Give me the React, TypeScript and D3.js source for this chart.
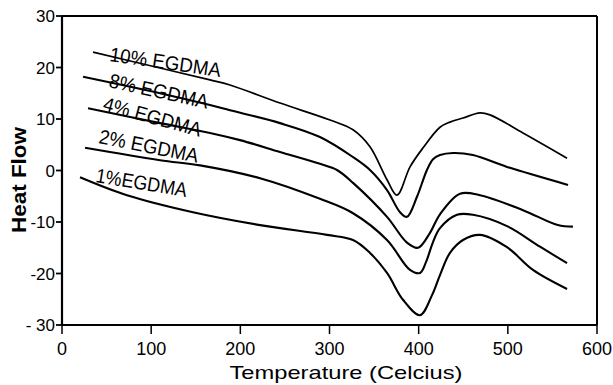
import React from "react";
import * as d3 from "d3";

// Temperature (°C), Heat Flow pairs
const egdma10: [number, number][] = [
  [34.8, 23.0], [109.9, 19.9], [166.0, 17.6], [188.4, 16.6], [244.5, 13.1],
  [300.6, 9.8], [326.4, 7.9], [345.4, 4.6], [364.5, -1.8], [375.7, -4.8],
  [390.3, 0.7], [404.9, 4.4], [423.9, 8.4], [435.1, 9.4], [449.7, 10.2],
  [468.8, 11.2], [480.0, 10.8], [517.0, 7.3], [566.4, 2.4],
];
const egdma8: [number, number][] = [
  [23.6, 18.2], [109.9, 15.0], [166.0, 12.7], [188.4, 11.7], [244.5, 9.2],
  [289.3, 6.5], [326.4, 2.6], [345.4, 0.1], [364.5, -3.8], [379.1, -8.1],
  [386.9, -9.0], [398.1, -5.1], [409.3, 0.1], [416.1, 2.2], [423.9, 3.0],
  [438.5, 3.4], [460.9, 3.0], [499.1, 0.7], [567.5, -2.8],
];
const egdma4: [number, number][] = [
  [29.2, 12.1], [109.9, 9.2], [166.0, 7.3], [199.6, 5.9], [244.5, 3.6],
  [289.3, 1.3], [308.4, 0.1], [326.4, -2.4], [364.5, -9.0], [386.9, -14.0],
  [399.3, -15.0], [412.7, -12.1], [423.9, -8.5], [446.4, -4.5], [468.8, -4.8],
  [517.0, -7.7], [556.0, -10.6], [573.0, -10.9],
];
const egdma2: [number, number][] = [
  [25.8, 4.4], [109.9, 2.0], [154.8, 1.0], [222.1, -1.5], [289.3, -5.5],
  [326.4, -8.3], [364.5, -13.5], [390.3, -19.3], [401.5, -19.9], [408.2, -17.8],
  [416.1, -13.9], [423.9, -11.2], [443.0, -8.6], [460.9, -8.6], [499.1, -10.8],
  [536.1, -14.8], [566.4, -18.0],
];
const egdma1: [number, number][] = [
  [20.2, -1.3], [72.9, -4.8], [146.9, -8.1], [222.1, -10.6], [297.2, -12.5],
  [326.4, -13.5], [345.4, -16.0], [364.5, -19.9], [382.4, -25.1], [401.5, -28.1],
  [415.0, -24.2], [423.9, -20.3], [435.1, -16.0], [449.7, -13.5], [468.8, -12.5],
  [499.1, -14.9], [528.2, -19.3], [566.4, -23.0],
];

const seriesNames = ["10% EGDMA", "8% EGDMA", "4% EGDMA", "2% EGDMA", "1%EGDMA"];
const seriesData = [egdma10, egdma8, egdma4, egdma2, egdma1];

const xTicks = [0, 100, 200, 300, 400, 500, 600];
const yTicks = [-30, -20, -10, 0, 10, 20, 30];
const yTickLabels = ["- 30", "-20", "-10", "0", "10", "20", "30"];

// label layout (pixel anchor, angle, length)
const labelLayout = [
  { x: 109, y: 61, a: 8.2, len: 112 },
  { x: 108, y: 87, a: 12.4, len: 101 },
  { x: 102, y: 110, a: 15.4, len: 101 },
  { x: 98, y: 143, a: 11.3, len: 101 },
  { x: 95, y: 182, a: 9.4, len: 92 },
];

export default function App() {
  const W = 613, H = 385;
  const x = d3.scaleLinear().domain([0, 600]).range([62, 597]);
  const y = d3.scaleLinear().domain([-30, 30]).range([325, 16]);
  const line = d3
    .line<[number, number]>()
    .x((d) => x(d[0]))
    .y((d) => y(d[1]))
    .curve(d3.curveCatmullRom.alpha(0.5));
  const font = "'Liberation Sans', Arial, sans-serif";

  return (
    <svg
      width={W}
      height={H}
      style={{ position: "absolute", left: 0, top: 0, background: "#fff" }}
      fontFamily={font}
    >
      <rect x={0} y={0} width={W} height={H} fill="#fff" />
      {/* frame */}
      <line x1={62} y1={16} x2={597} y2={16} stroke="#000" strokeWidth={2.2} />
      <line x1={597} y1={16} x2={597} y2={325} stroke="#000" strokeWidth={2} />
      <line x1={62} y1={325} x2={597} y2={325} stroke="#000" strokeWidth={2.2} />
      <line x1={62} y1={16} x2={62} y2={326} stroke="#000" strokeWidth={2.2} />

      {/* y ticks */}
      {yTicks.map((t, i) => (
        <g key={"y" + t}>
          <line x1={56} x2={62} y1={y(t)} y2={y(t)} stroke="#000" strokeWidth={1.8} />
          <text x={55} y={y(t) + 6} fontSize={17} textAnchor="end" fill="#000">
            {yTickLabels[i]}
          </text>
        </g>
      ))}
      {/* x ticks */}
      {xTicks.map((t) => (
        <g key={"x" + t}>
          <line x1={x(t)} x2={x(t)} y1={325} y2={334} stroke="#000" strokeWidth={1.5} />
          <text x={x(t)} y={355} fontSize={18} textAnchor="middle" fill="#000">
            {t}
          </text>
        </g>
      ))}

      {/* axis titles */}
      <text
        x={346}
        y={379}
        fontSize={19}
        textAnchor="middle"
        textLength={233}
        lengthAdjust="spacingAndGlyphs"
        fill="#000"
      >
        Temperature (Celcius)
      </text>
      <text
        transform="translate(26,180) rotate(-90)"
        fontSize={20}
        fontWeight="bold"
        textAnchor="middle"
        textLength={106}
        lengthAdjust="spacingAndGlyphs"
        fill="#000"
      >
        Heat Flow
      </text>

      {/* curves */}
      {seriesData.map((s, i) => (
        <path
          key={seriesNames[i]}
          d={line(s) || ""}
          fill="none"
          stroke="#000"
          strokeWidth={i === 0 ? 1.7 : 2.1}
          strokeLinejoin="round"
        />
      ))}

      {/* series labels */}
      {seriesNames.map((n, i) => {
        const L = labelLayout[i];
        return (
          <text
            key={"l" + n}
            transform={`translate(${L.x},${L.y}) rotate(${L.a})`}
            fontSize={20}
            textLength={L.len}
            lengthAdjust="spacingAndGlyphs"
            fill="#000"
          >
            {n}
          </text>
        );
      })}
    </svg>
  );
}
